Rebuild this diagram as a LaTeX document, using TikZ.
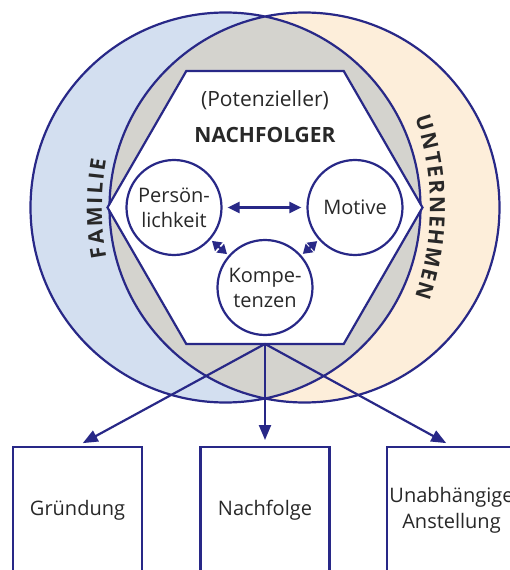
\documentclass[tikz,border=0pt]{standalone}
\usepackage{fontspec}
\setmainfont{Open Sans}
\usetikzlibrary{arrows.meta,decorations.text}
\definecolor{navy}{RGB}{40,40,135}
\definecolor{famblue}{RGB}{211,223,240}
\definecolor{firmcream}{RGB}{253,238,218}
\definecolor{lensgray}{RGB}{212,211,206}
\definecolor{ink}{RGB}{40,40,40}
\tikzset{
  ring/.style={draw=navy, line width=2.2pt},
  trait/.style={circle, draw=navy, line width=2.2pt, fill=white, minimum size=95pt,
    inner sep=0pt, align=center, text=ink, font=\fontsize{20}{25}\selectfont},
  outcome/.style={rectangle, draw=navy, line width=2.2pt, fill=white, anchor=north,
    minimum width=129pt, minimum height=126pt, inner sep=0pt, align=center,
    text=ink, font=\fontsize{20}{26}\selectfont},
  caption/.style={text=ink, inner sep=0pt},
  link/.style={navy, line width=2.2pt, shorten <=5pt, shorten >=5pt,
    {Triangle[length=12pt,width=11pt]}-{Triangle[length=12pt,width=11pt]}},
  minilink/.style={navy, line width=2.2pt, shorten <=2pt, shorten >=2pt,
    {Triangle[length=9pt,width=11pt]}-{Triangle[length=9pt,width=11pt]}},
  branch/.style={navy, line width=2.2pt, shorten >=6pt,
    -{Triangle[length=15pt,width=12pt]}}
}
\begin{document}
\begin{tikzpicture}[x=1pt,y=1pt]
  \useasboundingbox (-265,-362.5) rectangle (244,207.5);
  \fill[famblue] (-39.5,0) circle (195);
  \fill[firmcream] (39.5,0) circle (195);
  \begin{scope}
    \clip (-39.5,0) circle (195);
    \fill[lensgray] (39.5,0) circle (195);
  \end{scope}
  \draw[ring] (-39.5,0) circle (195) (39.5,0) circle (195);
  \draw[ring, fill=white]
    (0:157.5) -- (60:157.5) -- (120:157.5) -- (180:157.5)
    -- (240:157.5) -- (300:157.5) -- cycle;
  \coordinate (split) at (0,-136.4);
  \path[decorate, decoration={text along path, text align=fit to path,
      text={|\color{ink}\fontsize{21}{21}\selectfont\bfseries|FAMILIE}}]
    (114,0) ++(190.3:277) arc (190.3:170.1:277);
  \path[decorate, decoration={text along path, text align=fit to path,
      text={|\color{ink}\fontsize{21}{21}\selectfont\bfseries|UNTERNEHMEN}}]
    (-112,0) ++(18.9:277) arc (18.9:-18.9:277);
  \node[caption, font=\fontsize{21}{21}\selectfont] (potential) at (0,107.5) {(Potenzieller)};
  \node[caption, font=\fontsize{21}{21}\selectfont\bfseries] (successor) at (0,72.5) {NACHFOLGER};
  \node[trait] (pers) at (-91,0) {Persön-\\lichkeit};
  \node[trait] (motive) at (90,0) {Motive};
  \node[trait] (komp) at (0,-80) {Kompe-\\tenzen};
  \draw[link] (pers) -- (motive);
  \draw[minilink] (pers) -- (komp);
  \draw[minilink] (motive) -- (komp);
  \node[outcome] (found) at (-187.5,-238.5) {Gründung};
  \node[outcome] (follow) at (0,-238.5) {Nachfolge};
  \node[outcome] (employ) at (186.5,-238.5) {Unabhängige\\Anstellung};
  \draw[branch] (split) -- (found.north);
  \draw[branch] (split) -- (follow.north);
  \draw[branch] (split) -- (employ.north);
\end{tikzpicture}
\end{document}
